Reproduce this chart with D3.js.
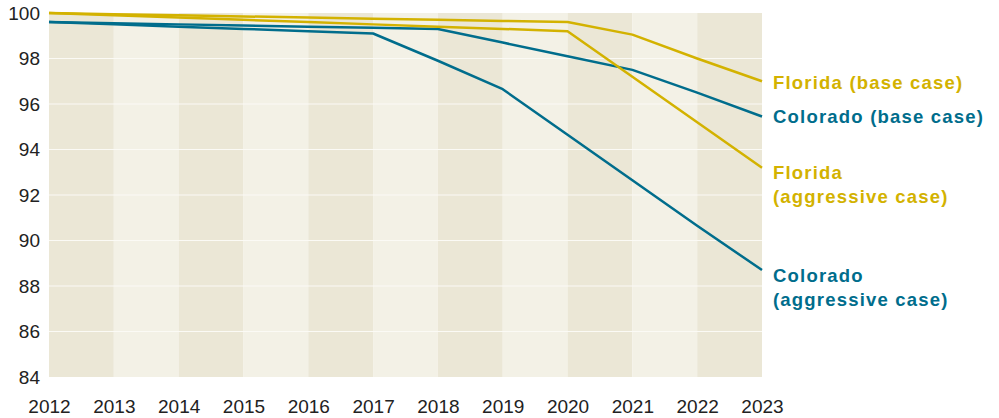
<!DOCTYPE html>
<html>
<head>
<meta charset="utf-8">
<script src="https://cdn.jsdelivr.net/npm/d3@7"></script>
<style>
  body { margin: 0; background: #fff; }
  svg { display: block; font-family: "Liberation Sans", Arial, sans-serif; }
</style>
</head>
<body>
<svg id="chart" width="999" height="418"></svg>
<script>
const years = [2012, 2013, 2014, 2015, 2016, 2017, 2018, 2019, 2020, 2021, 2022, 2023];
const floridaBase = [100, 99.95, 99.9, 99.85, 99.8, 99.75, 99.7, 99.65, 99.6, 99.05, 98.0, 97.0];
const floridaAggressive = [100, 99.9, 99.8, 99.7, 99.6, 99.5, 99.4, 99.3, 99.2, 97.2, 95.2, 93.2];
const coloradoBase = [99.6, 99.55, 99.5, 99.45, 99.4, 99.35, 99.3, 98.7, 98.1, 97.5, 96.5, 95.45];
const coloradoAggressive = [99.6, 99.5, 99.4, 99.3, 99.2, 99.1, 97.9, 96.65, 94.65, 92.65, 90.65, 88.7];
const yTicks = [84, 86, 88, 90, 92, 94, 96, 98, 100];

const yellow = '#d3b200';
const blue = '#006d8c';

const series = [
  { values: floridaBase, color: yellow, label: ['Florida (base case)'], ly: 82 },
  { values: coloradoBase, color: blue, label: ['Colorado (base case)'], ly: 116 },
  { values: floridaAggressive, color: yellow, label: ['Florida', '(aggressive case)'], ly: 172 },
  { values: coloradoAggressive, color: blue, label: ['Colorado', '(aggressive case)'], ly: 275 }
];

const svg = d3.select('#chart');
const plot = { left: 49, right: 762, top: 13, bottom: 377 };

const x = d3.scaleLinear().domain([2012, 2023]).range([plot.left, plot.right]);
const y = d3.scaleLinear().domain([84, 100]).range([plot.bottom, plot.top]);

// alternating year bands
svg.append('g').selectAll('rect')
  .data(years.slice(0, -1))
  .enter().append('rect')
  .attr('x', d => x(d))
  .attr('y', plot.top)
  .attr('width', d => x(d + 1) - x(d))
  .attr('height', plot.bottom - plot.top)
  .attr('fill', (d, i) => i % 2 === 0 ? '#ebe7d6' : '#f3f1e6');

// gridlines
svg.append('g').selectAll('line')
  .data(yTicks.slice(1, -1))
  .enter().append('line')
  .attr('x1', plot.left).attr('x2', plot.right)
  .attr('y1', d => y(d)).attr('y2', d => y(d))
  .attr('stroke', '#fbfaf5')
  .attr('stroke-width', 1.2);

// y axis labels
const yAxis = svg.append('g')
  .attr('transform', 'translate(' + plot.left + ',0)')
  .call(d3.axisLeft(y).tickValues(yTicks).tickSize(0).tickPadding(9));
yAxis.select('.domain').remove();
yAxis.selectAll('text')
  .style('font-size', '19px')
  .style('font-family', '"Liberation Sans", Arial, sans-serif')
  .attr('fill', '#222');

// x axis labels
const xAxis = svg.append('g')
  .attr('transform', 'translate(0,' + plot.bottom + ')')
  .call(d3.axisBottom(x).tickValues(years).tickFormat(d3.format('d')).tickSize(0).tickPadding(23));
xAxis.select('.domain').remove();
xAxis.selectAll('text')
  .style('font-size', '19px')
  .style('font-family', '"Liberation Sans", Arial, sans-serif')
  .attr('fill', '#222');

const line = d3.line()
  .x((d, i) => x(years[i]))
  .y(d => y(d));

svg.append('g').selectAll('path')
  .data(series)
  .enter().append('path')
  .attr('d', d => line(d.values))
  .attr('fill', 'none')
  .attr('stroke', d => d.color)
  .attr('stroke-width', 2.5)
  .attr('stroke-linejoin', 'round');

// direct labels
const labels = svg.append('g').selectAll('text')
  .data(series)
  .enter().append('text')
  .attr('x', 773)
  .attr('y', d => d.ly)
  .attr('fill', d => d.color)
  .style('font-size', '18.5px')
  .style('font-weight', 'bold')
  .style('letter-spacing', '1.2px')
  .attr('dominant-baseline', 'central');

labels.selectAll('tspan')
  .data(d => d.label)
  .enter().append('tspan')
  .attr('x', 773)
  .attr('dy', (d, i) => i === 0 ? 0 : 24)
  .text(d => d);
</script>
</body>
</html>
